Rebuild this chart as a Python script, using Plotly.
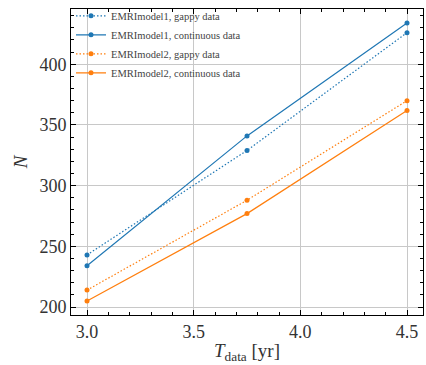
import plotly.graph_objects as go

t_data = [3.0, 3.75, 4.5]
model1_gappy = [243, 329, 426]
model1_cont = [234, 341, 434]
model2_gappy = [214, 288, 370]
model2_cont = [205, 277, 362]

blue = "#1f77b4"
orange = "#ff7f0e"
font2 = "Liberation Serif"

fig = go.Figure()
series = [
    ("EMRImodel1, gappy data", model1_gappy, blue, "1.5px,2px"),
    ("EMRImodel1, continuous data", model1_cont, blue, "solid"),
    ("EMRImodel2, gappy data", model2_gappy, orange, "1.5px,2px"),
    ("EMRImodel2, continuous data", model2_cont, orange, "solid"),
]
for name, y, c, dash in series:
    fig.add_trace(go.Scatter(x=t_data, y=y, name=name, mode="lines+markers",
                             line=dict(color=c, width=1.2, dash=dash),
                             marker=dict(color=c, size=5)))

axis_common = dict(
    showline=True, linecolor="black", linewidth=1, mirror="allticks",
    ticks="inside", ticklen=5, tickwidth=1, tickcolor="black",
    showgrid=True, gridcolor="#c8c8c8", gridwidth=1, zeroline=False,
    tickfont=dict(family=font2, size=18, color="#333"),
)
fig.update_xaxes(range=[2.925, 4.575], tickvals=[3.0, 3.5, 4.0, 4.5],
                 ticktext=["3.0", "3.5", "4.0", "4.5"],
                 minor=dict(dtick=0.1, tick0=3.0, ticks="inside", ticklen=3, tickcolor="black", showgrid=False),
                 title=dict(text="<i>T</i><sub>data</sub> [yr]", font=dict(family=font2, size=19, color="#333"), standoff=3),
                 **axis_common)
fig.update_yaxes(range=[193.5, 445.5], tickvals=[200, 250, 300, 350, 400],
                 minor=dict(dtick=10, tick0=200, ticks="inside", ticklen=3, tickcolor="black", showgrid=False),
                 title=dict(text="<i>N</i>", font=dict(family=font2, size=19, color="#333"), standoff=6),
                 **axis_common)
fig.update_layout(
    width=426, height=365,
    margin=dict(l=71, r=3, t=9, b=50, autoexpand=False),
    plot_bgcolor="white", paper_bgcolor="white",
    legend=dict(x=0.0, y=1.025, xanchor="left", yanchor="top",
                font=dict(family=font2, size=10.5, color="#444"),
                bgcolor="rgba(0,0,0,0)", borderwidth=0,
                itemwidth=30, tracegroupgap=0),
)
fig.write_html("out.html")
